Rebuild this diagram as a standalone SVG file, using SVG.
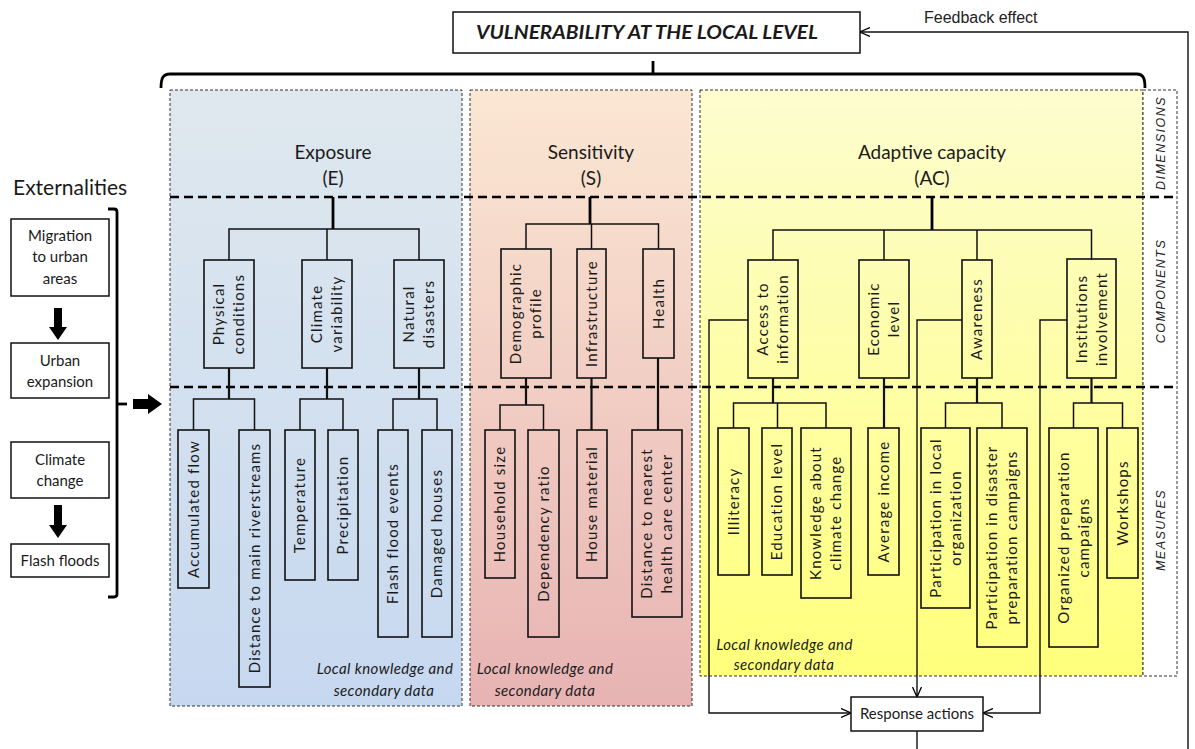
<svg xmlns="http://www.w3.org/2000/svg" width="1195" height="749" viewBox="0 0 1195 749">
  <defs>
    <linearGradient id="gBlue" x1="0" y1="0" x2="0" y2="1">
      <stop offset="0" stop-color="#dfe8ee"/>
      <stop offset="1" stop-color="#c6d8f0"/>
    </linearGradient>
    <linearGradient id="gPink" x1="0" y1="0" x2="0" y2="1">
      <stop offset="0" stop-color="#fbe7d3"/>
      <stop offset="1" stop-color="#e7b3b3"/>
    </linearGradient>
    <linearGradient id="gYellow" x1="0" y1="0" x2="0" y2="1">
      <stop offset="0" stop-color="#fdfdcf"/>
      <stop offset="1" stop-color="#ffff7c"/>
    </linearGradient>
    <marker id="openHead" viewBox="0 0 10 10" refX="10" refY="5" markerWidth="10" markerHeight="10" orient="auto" markerUnits="userSpaceOnUse">
      <path d="M0,0.5 L10,5 L0,9.5" fill="none" stroke="#000" stroke-width="1.3"/>
    </marker>
    <style>
      .t { font-family: Lato, "Liberation Sans", sans-serif; fill: #1a1a1a; }
      .v { font-size: 15px; letter-spacing: 1.2px; text-anchor: middle; }
      .dim { font-size: 19px; text-anchor: middle; }
      .ext { font-size: 15px; text-anchor: middle; }
      .note { font-size: 15px; font-style: italic; letter-spacing: 0.4px; text-anchor: middle; }
      .side { font-family: "Liberation Sans", Arial, sans-serif; font-size: 12.5px; font-style: italic; letter-spacing: 1.5px; text-anchor: middle; fill: #222; }
      .box { fill: none; stroke: #111; stroke-width: 1.6; }
      .wbox { fill: #fff; stroke: #111; stroke-width: 1.5; }
      .panel { stroke: #333; stroke-width: 1; stroke-dasharray: 3 2; }
      .ln { fill: none; stroke: #111; stroke-width: 1.5; }
      .stem { fill: none; stroke: #111; stroke-width: 2.2; }
      .main { fill: none; stroke: #000; stroke-width: 2.8; }
      .sep { fill: none; stroke: #000; stroke-width: 2.5; stroke-dasharray: 9 5; }
      .fb { fill: none; stroke: #111; stroke-width: 1.4; marker-end: url(#openHead); }
      .block { fill: #000; }
    </style>
  </defs>

  <!-- background panels -->
  <g id="panels">
    <rect class="panel" x="170" y="90" width="292" height="616" fill="url(#gBlue)"/>
    <rect class="panel" x="470" y="90" width="222" height="616" fill="url(#gPink)"/>
    <rect class="panel" x="700" y="90" width="443" height="586" fill="url(#gYellow)"/>
    <rect class="panel" x="1143" y="90" width="34" height="586" fill="#fff"/>
  </g>

  <!-- level separators -->
  <g id="separators">
    <line class="sep" x1="170" y1="197" x2="1177" y2="197"/>
    <line class="sep" x1="170" y1="387" x2="1177" y2="387"/>
  </g>

  <!-- level labels -->
  <g id="level-labels">
    <text class="side" transform="translate(1164.5,143) rotate(-90)">DIMENSIONS</text>
    <text class="side" transform="translate(1164.5,291) rotate(-90)">COMPONENTS</text>
    <text class="side" transform="translate(1164.5,530) rotate(-90)">MEASURES</text>
  </g>

  <!-- title -->
  <g id="title">
    <rect class="wbox" x="453" y="12" width="407" height="41"/>
    <text class="t" x="647" y="39" font-size="18" font-weight="bold" font-style="italic" text-anchor="middle" textLength="342" lengthAdjust="spacingAndGlyphs">VULNERABILITY AT THE LOCAL LEVEL</text>
  </g>

  <!-- brace grouping the three dimensions -->
  <g id="brace">
    <path class="main" d="M161,88 C161,78 163,74 170,74 L1137,74 C1143,74 1145,78 1145,88"/>
    <line class="main" x1="653" y1="74" x2="653" y2="61"/>
  </g>

  <!-- externalities -->
  <g id="externalities">
    <text class="t" x="13" y="195" font-size="21">Externalities</text>
    <g id="ext-migration">
      <rect class="wbox" x="11" y="219" width="98" height="77"/>
      <text class="t ext" x="60" y="241">Migration</text>
      <text class="t ext" x="60" y="262">to urban</text>
      <text class="t ext" x="60" y="284">areas</text>
    </g>
    <g id="ext-urban">
      <rect class="wbox" x="11" y="343" width="98" height="55"/>
      <text class="t ext" x="60" y="366">Urban</text>
      <text class="t ext" x="60" y="387">expansion</text>
    </g>
    <g id="ext-climate">
      <rect class="wbox" x="11" y="442" width="98" height="56"/>
      <text class="t ext" x="60" y="465">Climate</text>
      <text class="t ext" x="60" y="486">change</text>
    </g>
    <g id="ext-floods">
      <rect class="wbox" x="11" y="544" width="98" height="33"/>
      <text class="t ext" x="60" y="566">Flash floods</text>
    </g>
    <path class="block" d="M54,308 L62,308 L62,327 L67,327 L58,340 L49,327 L54,327 Z"/>
    <path class="block" d="M54,505 L62,505 L62,525 L67,525 L58,538 L49,525 L54,525 Z"/>
    <path class="main" d="M108,209 L114,209 Q117,209 117,212 L117,594 Q117,597 114,597 L108,597"/>
    <line class="main" x1="117" y1="404" x2="127" y2="404"/>
    <path class="block" d="M133,399 L148,399 L148,394 L162,404 L148,414 L148,409 L133,409 Z"/>
  </g>

  <!-- connectors of the hierarchy -->
  <g id="connectors">
    <!-- exposure -->
    <path class="main" d="M333,197 L333,229"/>
    <path class="ln" d="M229,260 L229,229 L419,229 L419,260 M327,229 L327,260"/>
    <path class="stem" d="M229,368 L229,399 M327,368 L327,399 M419,368 L419,399"/>
    <path class="ln" d="M193.5,430 L193.5,399 L254.5,399 L254.5,430"/>
    <path class="ln" d="M300,430 L300,399 L343,399 L343,430"/>
    <path class="ln" d="M393,430 L393,399 L437,399 L437,430"/>
    <!-- sensitivity -->
    <path class="main" d="M590,197 L590,224"/>
    <path class="ln" d="M526,249 L526,224 L658.5,224 L658.5,249 M591.5,224 L591.5,249"/>
    <path class="stem" d="M526,378 L526,405 M591.5,378 L591.5,430 M658,358 L658,430"/>
    <path class="ln" d="M500,430 L500,405 L543.5,405 L543.5,430"/>
    <!-- adaptive capacity -->
    <path class="main" d="M932,197 L932,230"/>
    <path class="ln" d="M773,260 L773,230 L1091.5,230 L1091.5,260 M884,230 L884,260 M977,230 L977,260"/>
    <path class="stem" d="M773,378 L773,403 M884,378 L884,428 M977,378 L977,403 M1091.5,378 L1091.5,403"/>
    <path class="ln" d="M733.5,428 L733.5,403 L826,403 L826,428 M777.5,403 L777.5,428"/>
    <path class="ln" d="M945.5,428 L945.5,403 L1002,403 L1002,428"/>
    <path class="ln" d="M1073.5,428 L1073.5,403 L1122.5,403 L1122.5,428"/>
    <!-- links to response actions -->
    <path class="fb" d="M748,320 L709,320 L709,713 L851,713"/>
    <path class="fb" d="M962,320 L917,320 L917,697"/>
    <path class="fb" d="M1067,320 L1040,320 L1040,713 L983,713"/>
    <!-- feedback loop (runs below the bottom edge) -->
    <path class="fb" d="M917,731 L917,760 L1188,760 L1188,32 L860,32"/>
  </g>

  <!-- dimensions -->
  <g id="dim-exposure">
    <text class="t dim" x="333" y="159">Exposure</text>
    <text class="t dim" x="333" y="185">(E)</text>
  </g>
  <g id="dim-sensitivity">
    <text class="t dim" x="591" y="159">Sensitivity</text>
    <text class="t dim" x="591" y="185">(S)</text>
  </g>
  <g id="dim-adaptive">
    <text class="t dim" x="932" y="159">Adaptive capacity</text>
    <text class="t dim" x="932" y="185">(AC)</text>
  </g>

  <!-- exposure components -->
  <g id="c-physical">
    <rect class="box" x="204" y="260" width="50" height="108"/>
    <text class="t v" transform="translate(229,314) rotate(-90)"><tspan x="0" y="-5">Physical</tspan><tspan x="0" y="15">conditions</tspan></text>
  </g>
  <g id="c-climvar">
    <rect class="box" x="302" y="260" width="50" height="108"/>
    <text class="t v" transform="translate(327,314) rotate(-90)"><tspan x="0" y="-5">Climate</tspan><tspan x="0" y="15">variability</tspan></text>
  </g>
  <g id="c-natural">
    <rect class="box" x="394" y="260" width="50" height="108"/>
    <text class="t v" transform="translate(419,314) rotate(-90)"><tspan x="0" y="-5">Natural</tspan><tspan x="0" y="15">disasters</tspan></text>
  </g>

  <!-- exposure measures -->
  <g id="m-accflow">
    <rect class="box" x="178" y="430" width="31" height="158"/>
    <text class="t v" transform="translate(193.5,509) rotate(-90)" y="5">Accumulated flow</text>
  </g>
  <g id="m-distriver">
    <rect class="box" x="239" y="430" width="31" height="257"/>
    <text class="t v" transform="translate(254.5,558) rotate(-90)" y="5">Distance to main riverstreams</text>
  </g>
  <g id="m-temp">
    <rect class="box" x="285" y="430" width="30" height="150"/>
    <text class="t v" transform="translate(300,505) rotate(-90)" y="5">Temperature</text>
  </g>
  <g id="m-precip">
    <rect class="box" x="328" y="430" width="30" height="150"/>
    <text class="t v" transform="translate(343,505) rotate(-90)" y="5">Precipitation</text>
  </g>
  <g id="m-flashev">
    <rect class="box" x="378" y="430" width="30" height="207"/>
    <text class="t v" transform="translate(393,533.5) rotate(-90)" y="5">Flash flood events</text>
  </g>
  <g id="m-damaged">
    <rect class="box" x="422" y="430" width="30" height="207"/>
    <text class="t v" transform="translate(437,533.5) rotate(-90)" y="5">Damaged houses</text>
  </g>

  <!-- sensitivity components -->
  <g id="c-demographic">
    <rect class="box" x="501" y="249" width="50" height="129"/>
    <text class="t v" transform="translate(526,313.5) rotate(-90)"><tspan x="0" y="-5">Demographic</tspan><tspan x="0" y="15">profile</tspan></text>
  </g>
  <g id="c-infra">
    <rect class="box" x="577" y="249" width="29" height="129"/>
    <text class="t v" transform="translate(591.5,313.5) rotate(-90)" y="5">Infrastructure</text>
  </g>
  <g id="c-health">
    <rect class="box" x="643" y="249" width="31" height="109"/>
    <text class="t v" transform="translate(658.5,303.5) rotate(-90)" y="5">Health</text>
  </g>

  <!-- sensitivity measures -->
  <g id="m-household">
    <rect class="box" x="485" y="430" width="30" height="148"/>
    <text class="t v" transform="translate(500,504) rotate(-90)" y="5">Household size</text>
  </g>
  <g id="m-dependency">
    <rect class="box" x="528" y="430" width="31" height="207"/>
    <text class="t v" transform="translate(543.5,533.5) rotate(-90)" y="5">Dependency ratio</text>
  </g>
  <g id="m-material">
    <rect class="box" x="577" y="430" width="30" height="148"/>
    <text class="t v" transform="translate(592,504) rotate(-90)" y="5">House material</text>
  </g>
  <g id="m-healthdist">
    <rect class="box" x="632" y="430" width="50" height="187"/>
    <text class="t v" transform="translate(657,523.5) rotate(-90)"><tspan x="0" y="-5">Distance to nearest</tspan><tspan x="0" y="15">health care center</tspan></text>
  </g>

  <!-- adaptive capacity components -->
  <g id="c-access">
    <rect class="box" x="748" y="260" width="50" height="118"/>
    <text class="t v" transform="translate(773,319) rotate(-90)"><tspan x="0" y="-5">Access to</tspan><tspan x="0" y="15">information</tspan></text>
  </g>
  <g id="c-economic">
    <rect class="box" x="859" y="260" width="50" height="118"/>
    <text class="t v" transform="translate(884,319) rotate(-90)"><tspan x="0" y="-5">Economic</tspan><tspan x="0" y="15">level</tspan></text>
  </g>
  <g id="c-awareness">
    <rect class="box" x="962" y="260" width="30" height="118"/>
    <text class="t v" transform="translate(977,319) rotate(-90)" y="5">Awareness</text>
  </g>
  <g id="c-institutions">
    <rect class="box" x="1067" y="259" width="49" height="119"/>
    <text class="t v" transform="translate(1091.5,319) rotate(-90)"><tspan x="0" y="-5">Institutions</tspan><tspan x="0" y="15">involvement</tspan></text>
  </g>

  <!-- adaptive capacity measures -->
  <g id="m-illiteracy">
    <rect class="box" x="718" y="428" width="31" height="147"/>
    <text class="t v" transform="translate(733.5,501.5) rotate(-90)" y="5">Illiteracy</text>
  </g>
  <g id="m-education">
    <rect class="box" x="762" y="428" width="30" height="147"/>
    <text class="t v" transform="translate(777,501.5) rotate(-90)" y="5">Education level</text>
  </g>
  <g id="m-knowledge">
    <rect class="box" x="801" y="428" width="50" height="170"/>
    <text class="t v" transform="translate(826,513) rotate(-90)"><tspan x="0" y="-5">Knowledge about</tspan><tspan x="0" y="15">climate change</tspan></text>
  </g>
  <g id="m-income">
    <rect class="box" x="868" y="428" width="31" height="147"/>
    <text class="t v" transform="translate(883.5,501.5) rotate(-90)" y="5">Average income</text>
  </g>
  <g id="m-partlocal">
    <rect class="box" x="921" y="428" width="49" height="180"/>
    <text class="t v" transform="translate(945.5,518) rotate(-90)"><tspan x="0" y="-5">Participation in local</tspan><tspan x="0" y="15">organization</tspan></text>
  </g>
  <g id="m-partdisaster">
    <rect class="box" x="977" y="428" width="50" height="219"/>
    <text class="t v" transform="translate(1002,537.5) rotate(-90)"><tspan x="0" y="-5">Participation in disaster</tspan><tspan x="0" y="15">preparation campaigns</tspan></text>
  </g>
  <g id="m-organized">
    <rect class="box" x="1049" y="428" width="49" height="219"/>
    <text class="t v" transform="translate(1073.5,537.5) rotate(-90)"><tspan x="0" y="-5">Organized preparation</tspan><tspan x="0" y="15">campaigns</tspan></text>
  </g>
  <g id="m-workshops">
    <rect class="box" x="1107" y="428" width="31" height="150"/>
    <text class="t v" transform="translate(1122.5,503) rotate(-90)" y="5">Workshops</text>
  </g>

  <!-- data source notes -->
  <g id="notes">
    <text class="t note" x="385" y="674">Local knowledge and</text>
    <text class="t note" x="384" y="696">secondary data</text>
    <text class="t note" x="545" y="674">Local knowledge and</text>
    <text class="t note" x="545" y="696">secondary data</text>
    <text class="t note" x="784.5" y="650">Local knowledge and</text>
    <text class="t note" x="784" y="670">secondary data</text>
  </g>

  <!-- response actions and feedback -->
  <g id="response">
    <rect class="wbox" x="851" y="697" width="132" height="34"/>
    <text class="t" x="917" y="719" font-size="15" text-anchor="middle">Response actions</text>
  </g>
  <g id="feedback-label">
    <text x="924" y="23" font-family="'Liberation Sans', Arial, sans-serif" font-size="16" fill="#222">Feedback effect</text>
  </g>
</svg>
